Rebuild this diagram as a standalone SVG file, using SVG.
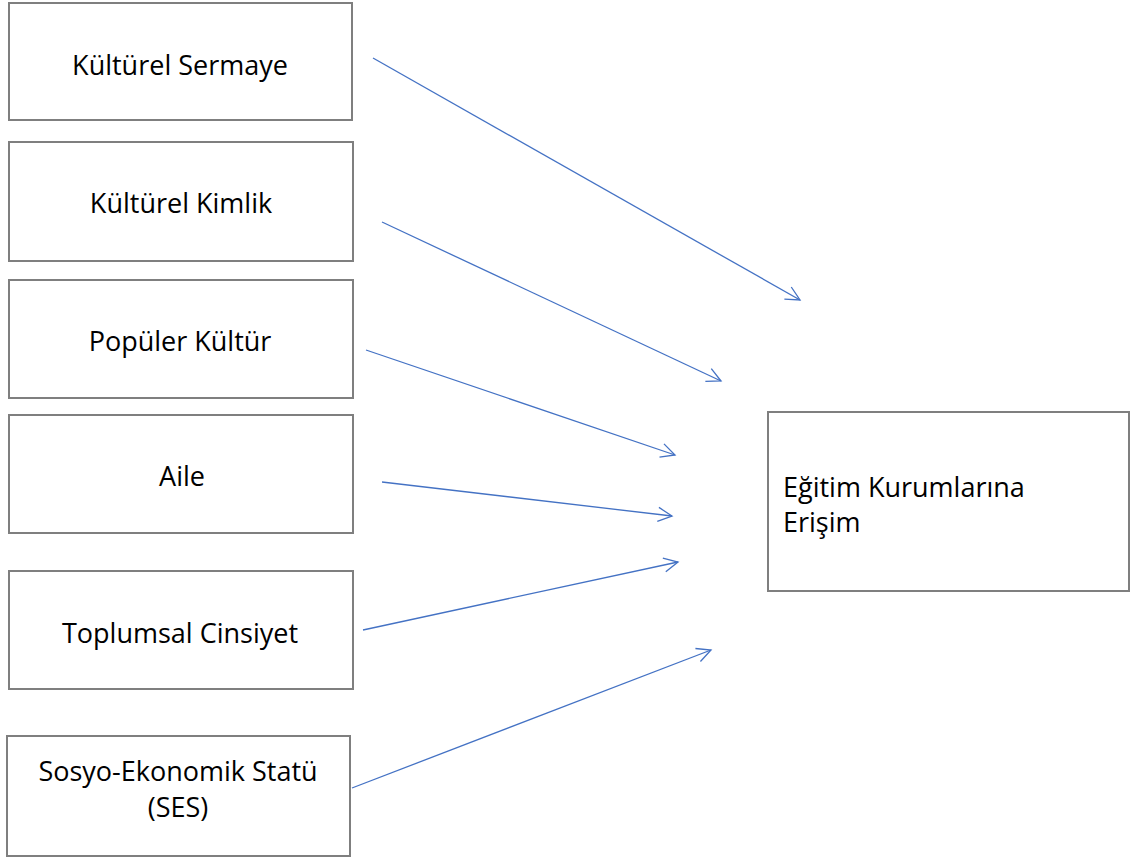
<svg xmlns="http://www.w3.org/2000/svg" width="1132" height="857" viewBox="0 0 1132 857">
<style>
.box{fill:#fff;stroke:#7f7f7f;stroke-width:2}
.t{font-family:"Open Sans","Liberation Sans",sans-serif;font-size:27px;fill:#000}
.c{text-anchor:middle}
.con line{stroke:#4472C4;stroke-width:1.3;fill:none}
</style>
<defs>
<marker id="ah" markerUnits="userSpaceOnUse" markerWidth="20" markerHeight="20" refX="15" refY="7" orient="auto" overflow="visible">
<path d="M1,0 L15,7 L1,14" fill="none" stroke="#4472C4" stroke-width="1.3"/>
</marker>
</defs>
<rect width="1132" height="857" fill="#fff"/>
<g id="n1"><rect class="box" x="9" y="3" width="343" height="117"/><text class="t c" x="180" y="75">Kültürel Sermaye</text></g>
<g id="n2"><rect class="box" x="9" y="142" width="344" height="119"/><text class="t c" x="181" y="213">Kültürel Kimlik</text></g>
<g id="n3"><rect class="box" x="9" y="280" width="344" height="118"/><text class="t c" x="180" y="351">Popüler Kültür</text></g>
<g id="n4"><rect class="box" x="9" y="415" width="344" height="118"/><text class="t c" x="182" y="486">Aile</text></g>
<g id="n5"><rect class="box" x="9" y="571" width="344" height="118"/><text class="t c" x="180" y="643">Toplumsal Cinsiyet</text></g>
<g id="n6"><rect class="box" x="7" y="736" width="343" height="120"/><text class="t c" x="178" y="781">Sosyo-Ekonomik Statü</text><text class="t c" x="178" y="817">(SES)</text></g>
<g id="target"><rect class="box" x="768" y="412" width="361" height="179"/><text class="t" x="783" y="497">Eğitim Kurumlarına</text><text class="t" x="783" y="532">Erişim</text></g>
<g id="connectors" class="con">
<line x1="373" y1="58" x2="800" y2="300" marker-end="url(#ah)"/>
<line x1="382" y1="222" x2="721" y2="381" marker-end="url(#ah)"/>
<line x1="366" y1="350" x2="675" y2="455" marker-end="url(#ah)"/>
<line x1="382" y1="482" x2="672" y2="516" marker-end="url(#ah)"/>
<line x1="363" y1="630" x2="678" y2="562" marker-end="url(#ah)"/>
<line x1="352" y1="788" x2="711" y2="650" marker-end="url(#ah)"/>
</g>
</svg>
